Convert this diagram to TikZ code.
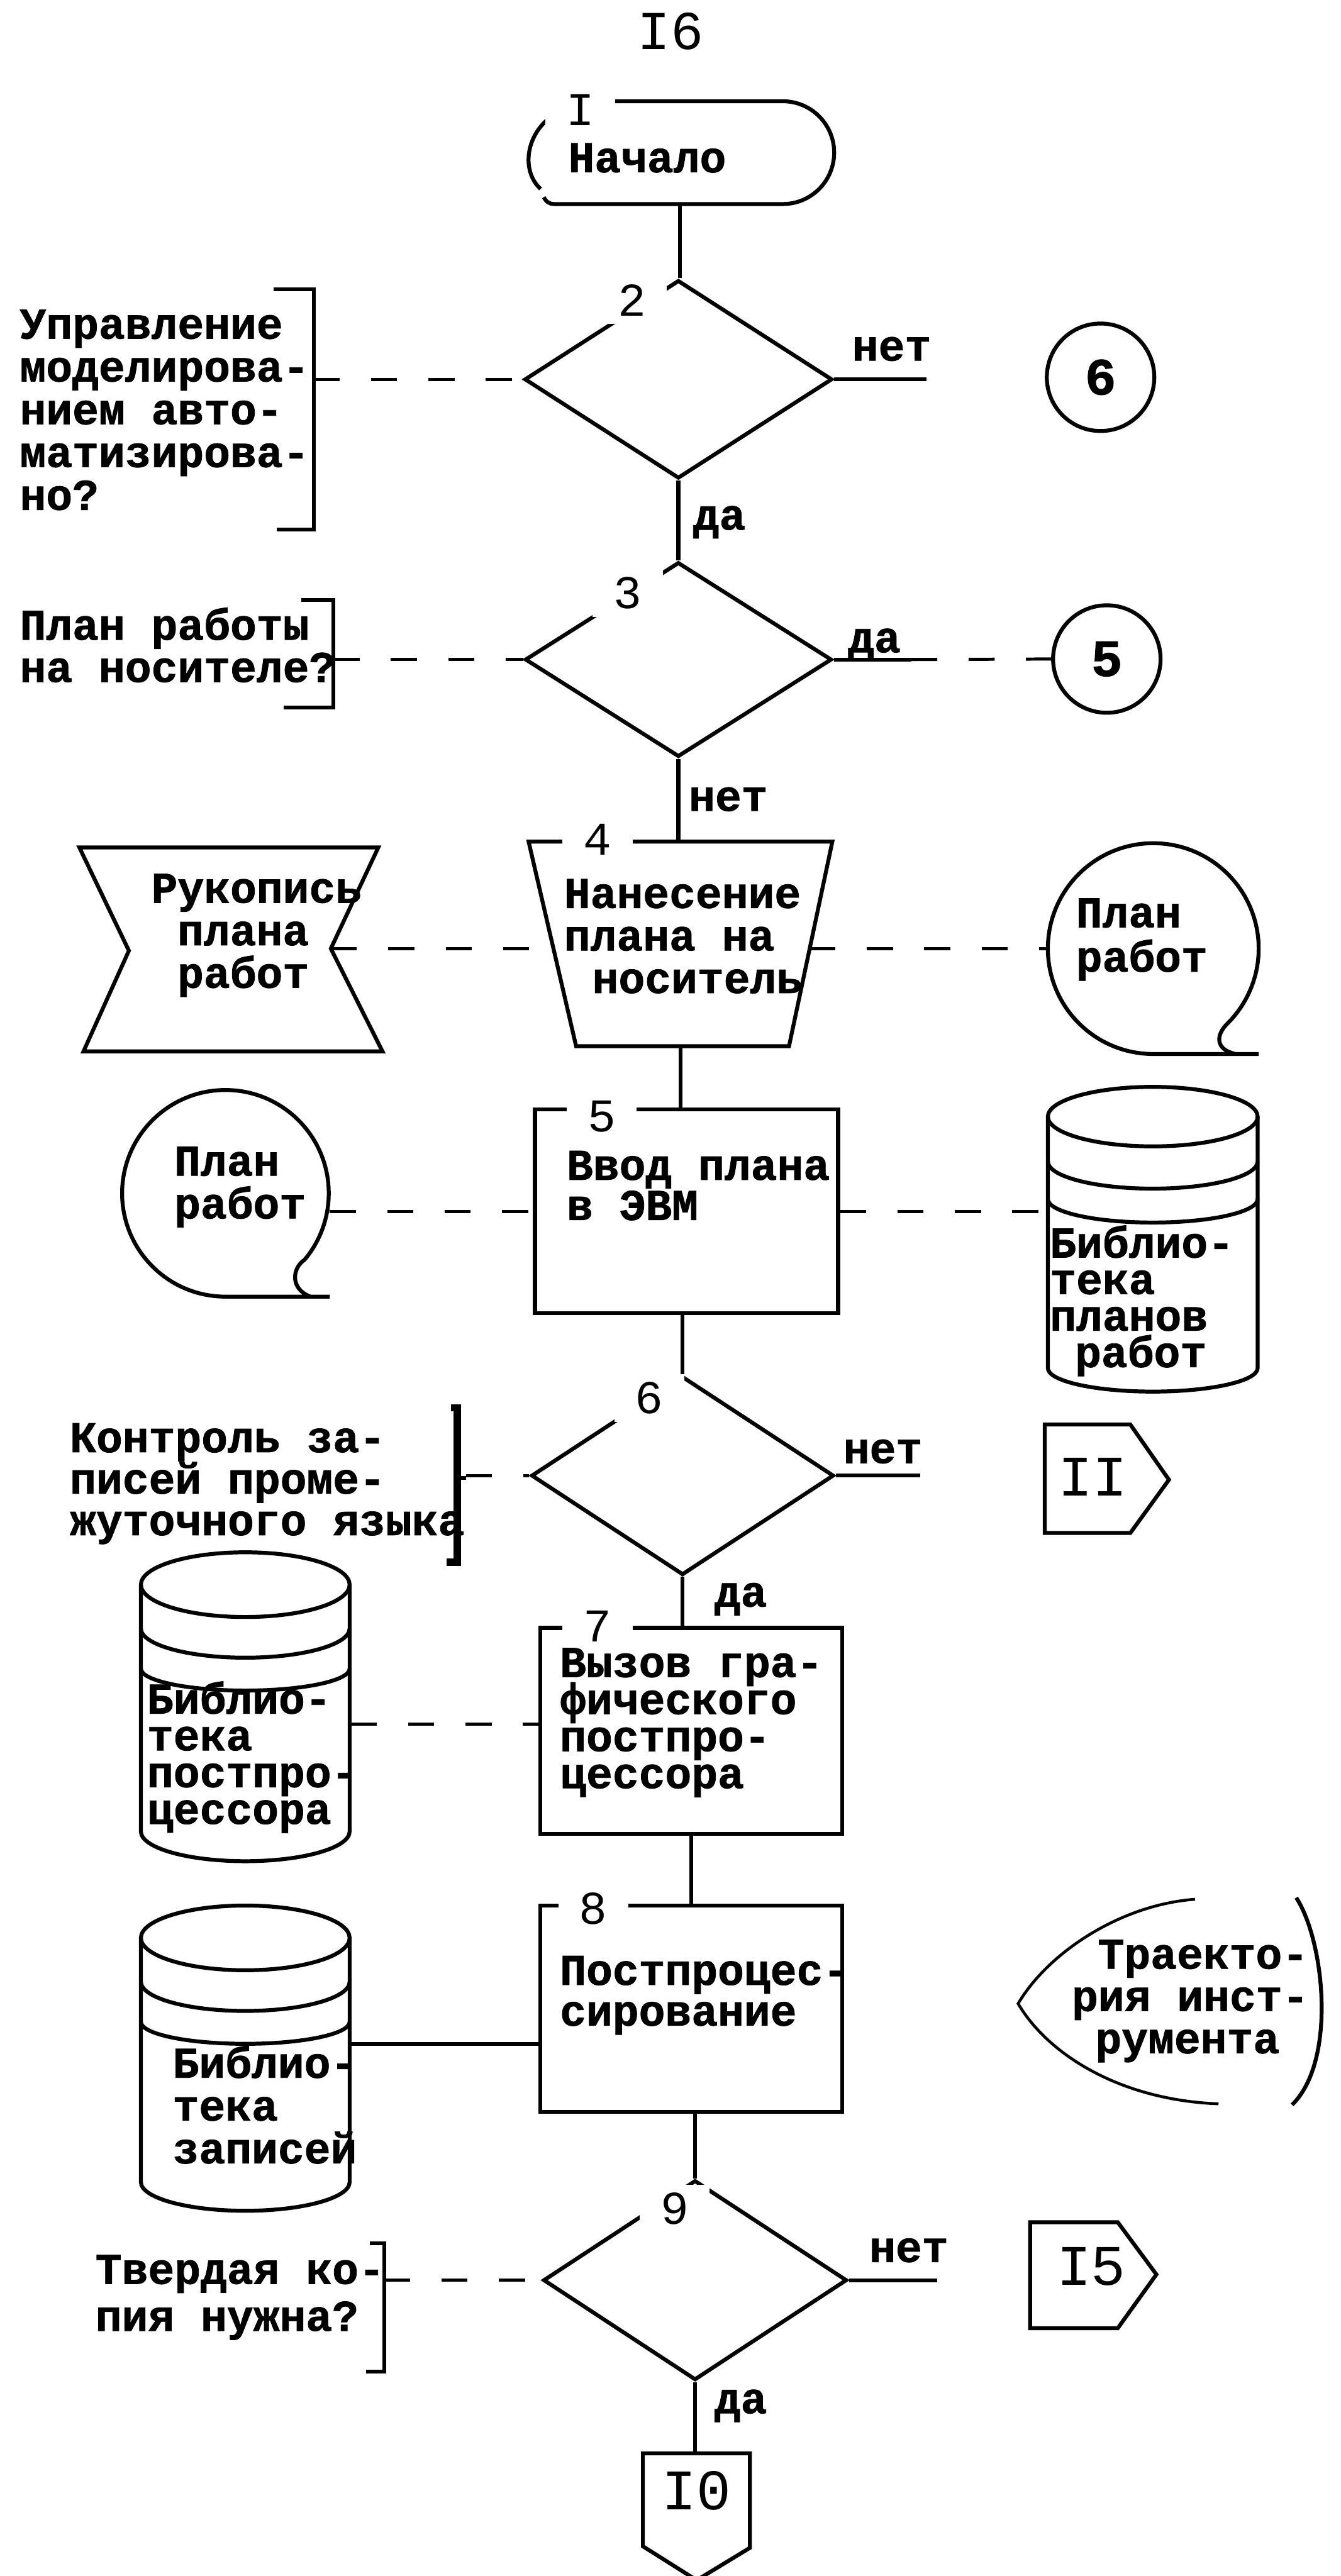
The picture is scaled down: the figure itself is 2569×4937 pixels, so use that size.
\documentclass[tikz,border=0pt]{standalone}
\usepackage{fontspec}
\usetikzlibrary{shapes.geometric,calc}
\newfontfamily\twf{Liberation Mono}[BoldFeatures={FakeBold=1.2}]
\newcommand\myLab{\twf\bfseries\fontsize{8.4}{8.4}\selectfont}
\newcommand\myNum{\twf\fontsize{9}{9}\selectfont}
\newcommand\myCon{\twf\fontsize{11}{11}\selectfont}
% lines of a text block: first argument is the distance between baselines
\newcommand\blk[2]{\vtop{\baselineskip=#1\lineskiplimit=-1000pt\lineskip=0pt\relax#2}}
\newcommand\tln[1]{\hbox{#1}}
\begin{document}
\begin{tikzpicture}[x=0.1pt,y=-0.1pt,
  ln/.style={line width=0.75pt},
  dl/.style={line width=0.6pt, dash pattern=on 5pt off 6pt},
  lbl/.style={font=\myLab, inner sep=0pt, anchor=base west},
  num/.style={font=\myNum, inner xsep=4pt, inner ysep=1.5pt, fill=white, anchor=base},
  dia/.style={diamond, draw, line width=0.75pt, inner sep=0pt},
  pbox/.style={rectangle, draw, line width=0.75pt, inner sep=0pt},
  ghost/.style={rectangle, inner sep=0pt},
  con/.style={circle, draw, line width=0.75pt, inner sep=0pt, minimum size=20.6pt, font=\twf\bfseries\fontsize{10}{10}\selectfont},
  cl/.style={font=\myCon, inner sep=0pt, anchor=base west}]
\fill[white] (0,0) rectangle (2569,4937);
\useasboundingbox (0,0) rectangle (2569,4937);
\clip (0,0) rectangle (2569,4937);

% ================= shapes =================
% 1 terminal
\node[ghost, minimum width=59pt, minimum height=19.7pt] (t1) at (1303,292.5) {};
\draw[ln] (1060,194) -- (1500,194) arc[start angle=270,end angle=450,radius=98.5] -- (1062,391) .. controls (1052,391) and (1046,386) .. (1042,378);
\draw[ln] (1058,222) .. controls (1005,260) and (1000,330) .. (1036,362);
% 2 decision
\node[dia, minimum width=59pt, minimum height=38pt] (d2) at (1300,727) {};
\draw[ln] (524,554) -- (601,554) -- (601,1015) -- (530,1015);
\coordinate (b2) at (601,727);
\coordinate (s2) at (1776,727);
\node[con] (c6) at (2109,723) {6};
% 3 decision
\node[dia, minimum width=58.8pt, minimum height=37.3pt] (d3) at (1300,1264) {};
\draw[ln] (577,1150) -- (639,1150) -- (639,1356) -- (544,1356);
\coordinate (b3) at (639,1264);
\coordinate (s3) at (1746,1264);
\node[con] (c5) at (2121,1263) {5};
% 4 manual operation
\node[ghost, minimum width=58.2pt, minimum height=39.2pt] (p4) at (1304,1809) {};
\draw[ln] (1013,1613) -- (1595,1613) -- (1512,2005) -- (1104,2005) -- cycle;
\draw[ln] (152,1624) -- (725,1624) -- (634,1818) -- (733,2015) -- (160,2015) -- (247,1822) -- cycle;
\coordinate (h4r) at (634,1818);
\coordinate (p4l) at (1060,1818);
\coordinate (p4r) at (1551,1818);
\node[ghost, circle, minimum size=40.4pt] (tp1) at (2210,1818) {};
\draw[ln] (2412,2020) -- (2210,2020) arc[start angle=90,end angle=405,radius=202] .. controls (2328,1985) and (2330,2012) .. (2368,2020);
% 5 process
\node[pbox, minimum width=58.1pt, minimum height=39.1pt] (b5) at (1315.5,2321.5) {};
\node[ghost, circle, minimum size=39.6pt] (tp2) at (432,2287) {};
\draw[ln] (632,2485) -- (432,2485) arc[start angle=90,end angle=400,radius=198] .. controls (560,2430) and (555,2470) .. (595,2485);
\node[ghost, minimum width=40.2pt, minimum height=58.2pt] (cy1) at (2209,2374) {};
\draw[ln] (2209,2140) ellipse [x radius=201, y radius=57];
\draw[ln] (2008,2140) -- (2008,2622) arc[start angle=180,end angle=0,x radius=201,y radius=45] -- (2410,2140);
\draw[ln] (2008,2226) arc[start angle=180,end angle=0,x radius=201,y radius=52];
\draw[ln] (2008,2298) arc[start angle=180,end angle=0,x radius=201,y radius=45];
% 6 decision
\node[dia, minimum width=58pt, minimum height=38.1pt] (d6) at (1308,2828) {};
\draw[line width=1.4pt] (864,2698) -- (876,2698) -- (876,2994) -- (856,2994);
\draw[ln] (876,2832) -- (893,2832);
\coordinate (b6) at (893,2828);
\coordinate (s6) at (1763,2828);
\draw[ln] (2002,2730) -- (2166,2730) -- (2240,2836) -- (2166,2938) -- (2002,2938) -- cycle;
% 7 process
\node[pbox, minimum width=57.9pt, minimum height=39.5pt] (b7) at (1324.5,3317.5) {};
\node[ghost, minimum width=40pt, minimum height=59.2pt] (cy2) at (470,3271) {};
\draw[ln] (470,3037) ellipse [x radius=200, y radius=62];
\draw[ln] (270,3037) -- (270,3510) arc[start angle=180,end angle=0,x radius=200,y radius=57] -- (670,3037);
\draw[ln] (270,3121) arc[start angle=180,end angle=0,x radius=200,y radius=56];
\draw[ln] (270,3198) arc[start angle=180,end angle=0,x radius=200,y radius=42];
\coordinate (b7l) at (1035,3304);
% 8 process
\node[pbox, minimum width=57.9pt, minimum height=39.5pt] (b8) at (1324.5,3849.5) {};
\node[ghost, minimum width=40pt, minimum height=58.8pt] (cy3) at (470,3946) {};
\draw[ln] (470,3714) ellipse [x radius=200, y radius=62];
\draw[ln] (270,3714) -- (270,4182) arc[start angle=180,end angle=0,x radius=200,y radius=55] -- (670,3714);
\draw[ln] (270,3798) arc[start angle=180,end angle=0,x radius=200,y radius=56];
\draw[ln] (270,3875) arc[start angle=180,end angle=0,x radius=200,y radius=42];
\coordinate (b8l) at (1035,3917);
\draw[ln] (2484,3637) .. controls (2538,3720) and (2562,3950) .. (2476,4034);
\draw[line width=0.55pt] (2290,3640) .. controls (2150,3650) and (2010,3740) .. (1951,3840) .. controls (2010,3940) and (2150,4025) .. (2335,4032);
% 9 decision
\node[dia, minimum width=58.2pt, minimum height=38.3pt] (d9) at (1332,4370) {};
\draw[ln] (709,4299) -- (736,4299) -- (736,4545) -- (701,4545);
\coordinate (b9) at (736,4370);
\coordinate (s9) at (1796,4370);
\draw[ln] (1974,4259) -- (2142,4259) -- (2216,4359) -- (2142,4462) -- (1974,4462) -- cycle;
\coordinate (c10t) at (1332,4702);
\draw[ln] (1232,4702) -- (1437,4702) -- (1437,4883) -- (1335,4945) -- (1232,4880) -- cycle;

% ================= connectors =================
\draw[ln] (t1.south) -- (t1.south |- d2.north);
\draw[dl] (b2) -- (d2.west);
\draw[ln] (d2.east) -- (s2);
\draw[ln] (d2.south) -- (d3.north);
\draw[dl] (b3) -- (d3.west);
\draw[ln] (d3.east) -- (s3);
\draw[dl] (s3) -- (c5.west);
\draw[ln] (d3.south) -- (d3.south |- p4.north);
\draw[dl] (h4r) -- (p4l);
\draw[dl] (p4r) -- (tp1.west);
\draw[ln] (p4.south) -- (p4.south |- b5.north);
\draw[dl] (tp2.east |- b5.west) -- (b5.west);
\draw[dl] (b5.east) -- (cy1.west |- b5.east);
\draw[ln] (d6.north |- b5.south) -- (d6.north);
\draw[dl] (b6) -- (d6.west);
\draw[ln] (d6.east) -- (s6);
\draw[ln] (d6.south) -- (d6.south |- b7.north);
\draw[dl] (cy2.east |- b7l) -- (b7l);
\draw[ln] (b7.south) -- (b7.south |- b8.north);
\draw[ln] (cy3.east |- b8l) -- (b8l);
\draw[ln] (d9.north |- b8.south) -- (d9.north);
\draw[dl] (b9) -- (d9.west);
\draw[ln] (d9.east) -- (s9);
\draw[ln] (d9.south) -- (c10t);

% ================= block numbers (they break the outlines) =================
\node[num] (n1) at (1112,240) {I};
\node[num] (n2) at (1211,606) {2};
\node[num] (n3) at (1203,1166) {3};
\node[num] (n4) at (1145,1638) {4};
\node[num] (n5) at (1153,2169) {5};
\node[num] (n6) at (1244,2709) {6};
\node[num] (n7) at (1145,3146) {7};
\node[num] (n8) at (1137,3688) {8};
\node[num] (n9) at (1293,4262) {9};

% ================= texts =================
\node[font=\twf\fontsize{10.5}{10.5}\selectfont, inner sep=0pt, anchor=base] (pg) at (1285,95) {I6};
\node[lbl] (t1a) at (1087,330) {Начало};
\node[lbl] (a2) at (36,649) {\blk{8.2pt}{\tln{Управление}\tln{моделирова-}\tln{нием авто-}\tln{матизирова-}\tln{но?}}};
\node[lbl] (l2r) at (1631,691) {нет};
\node[lbl] (l2d) at (1326,1015) {да};
\node[lbl] (a3) at (36,1226) {\blk{8.1pt}{\tln{План работы}\tln{на носителе?}}};
\node[lbl] (l3r) at (1623,1250) {да};
\node[lbl] (l3d) at (1318,1554) {нет};
\node[lbl] (p4t) at (1079,1740) {\blk{8.15pt}{\tln{Нанесение}\tln{плана на}\tln{\kern5.4pt носитель}}};
\node[lbl] (h4t) at (288,1730) {\blk{8.15pt}{\tln{Рукопись}\tln{\kern5pt плана}\tln{\kern5pt работ}}};
\node[lbl] (tp1t) at (2060,1777) {\blk{8.5pt}{\tln{План}\tln{работ}}};
\node[lbl] (b5t) at (1084,2261) {\blk{7.7pt}{\tln{Ввод плана}\tln{в ЭВМ}}};
\node[lbl] (tp2t) at (332,2253) {\blk{8.2pt}{\tln{План}\tln{работ}}};
\node[lbl] (cy1t) at (2010,2410) {\blk{7pt}{\tln{Библио-}\tln{тека}\tln{планов}\tln{\kern4.8pt работ}}};
\node[lbl] (a6) at (132,2783) {\blk{7.95pt}{\tln{Контроль за-}\tln{писей проме-}\tln{жуточного языка}}};
\node[lbl] (l6r) at (1614,2804) {нет};
\node[cl] (k11) at (2026,2867) {II};
\node[lbl] (l6d) at (1367,3079) {да};
\node[lbl] (b7t) at (1071,3214) {\blk{7.1pt}{\tln{Вызов гра-}\tln{фического}\tln{постпро-}\tln{цессора}}};
\node[lbl] (cy2t) at (280,3284) {\blk{7.05pt}{\tln{Библио-}\tln{тека}\tln{постпро-}\tln{цессора}}};
\node[lbl] (b8t) at (1071,3804) {\blk{7.8pt}{\tln{Постпроцес-}\tln{сирование}}};
\node[lbl] (cy3t) at (329,3982) {\blk{8.2pt}{\tln{Библио-}\tln{тека}\tln{записей}}};
\node[lbl] (dst) at (2052,3773) {\blk{8.1pt}{\tln{\kern5pt Траекто-}\tln{рия инст-}\tln{\kern4.5pt румента}}};
\node[lbl] (a9) at (181,4377) {\blk{9pt}{\tln{Твердая ко-}\tln{пия нужна?}}};
\node[lbl] (l9r) at (1664,4335) {нет};
\node[cl] (k15) at (2023,4379) {I5};
\node[lbl] (l9d) at (1367,4625) {да};
\node[cl] (k10) at (1267,4810) {I0};
\end{tikzpicture}
\end{document}
